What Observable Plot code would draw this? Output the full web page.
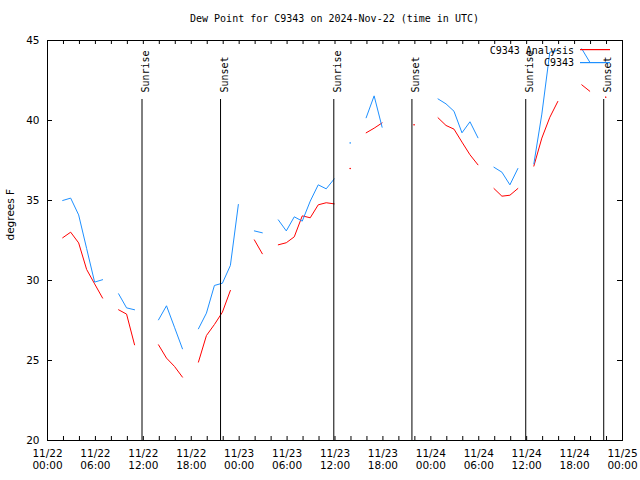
<!DOCTYPE html>
<html>
<head>
<meta charset="utf-8">
<script src="https://cdn.jsdelivr.net/npm/d3@7"></script>
<script src="https://cdn.jsdelivr.net/npm/@observablehq/plot@0.6"></script>
<style>
  body { margin: 0; background: #fff; }
  #title { width: 640px; height: 30px; box-sizing: border-box; padding: 13px 18px 0 47px; text-align: center;
           font: 10px "DejaVu Sans Mono", monospace; line-height: 12px; color: #000; }
</style>
</head>
<body>
<div id="title">Dew Point for C9343 on 2024-Nov-22 (time in UTC)</div>
<div id="chart"></div>
<script>
// Hourly dew point (°F), index = hour since 2024-11-22 00:54 UTC; null = missing
const observed = [null,35.0,35.15,34.1,32.0,29.9,30.05,null,29.17,28.29,28.17,null,null,27.54,28.42,27.08,25.73,null,
  26.98,27.96,29.69,29.83,30.94,34.75,null,33.1,32.98,null,33.79,33.1,33.98,33.71,34.96,35.98,35.73,36.35,
  null,38.6,null,40.17,41.54,39.58,null,null,null,null,null,null,41.35,41.04,40.58,39.23,39.92,38.92,
  null,37.08,36.77,35.98,37.0,null,37.29,40.4,44.27,44.38,null,null,44.48,43.65,null,null,null,null];
const analysis = [null,32.67,33.02,32.35,30.69,29.79,28.9,null,28.17,27.9,25.98,null,null,25.98,25.15,24.63,23.96,null,
  24.9,26.56,27.25,28.02,29.38,null,null,32.54,31.67,null,32.23,32.36,32.73,34.04,33.92,34.73,34.86,34.79,
  null,37.0,null,39.23,39.52,39.85,null,null,null,39.73,null,null,40.17,39.69,39.46,38.65,37.86,37.23,
  null,35.75,35.27,35.33,35.75,null,37.15,38.9,40.2,41.19,null,null,42.23,41.83,null,41.46,null,null];
const eventTimes = ["2024-11-22T11:50Z","2024-11-22T21:40Z","2024-11-23T11:51Z","2024-11-23T21:38Z","2024-11-24T11:53Z","2024-11-24T21:39Z"];
const eventLabels = ["Sunrise","Sunset","Sunrise","Sunset","Sunrise","Sunset"];
const yTicks = [20,25,30,35,40,45];
const seriesNames = ["C9343 Analysis","C9343"];
const seriesColors = ["#ff0000","#1e90ff"];

const t0 = Date.UTC(2024,10,22,0,54);
const toRows = (arr) => arr.map((v,i) => ({t: new Date(t0 + i*3600e3), v}));
const obsRows = toRows(observed), anaRows = toRows(analysis);
const isolated = (rows) => rows.filter((d,i) => d.v != null && (i===0 || rows[i-1].v == null) && (i===rows.length-1 || rows[i+1].v == null));

const xStart = new Date(Date.UTC(2024,10,22)), xEnd = new Date(Date.UTC(2024,10,25));
const ticks2h = d3.utcHour.every(2).range(xStart, new Date(+xEnd + 1));
const ticks6h = d3.utcHour.every(6).range(xStart, new Date(+xEnd + 1));
const events = eventTimes.map((t,i) => ({t: new Date(t), label: eventLabels[i]}));

const W = 640, H = 450, mT = 10, mB = 40, mL = 47, mR = 18;
const fh = H - mT - mB, fw = W - mL - mR;

const plot = Plot.plot({
  width: W, height: H, marginTop: mT, marginBottom: mB, marginLeft: mL, marginRight: mR,
  style: {fontFamily: "DejaVu Sans", fontSize: "10.5px", background: "#fff", color: "#000"},
  x: {type: "utc", domain: [xStart, xEnd]},
  y: {domain: [20, 45]},
  marks: [
    Plot.line(anaRows, {x: "t", y: "v", stroke: seriesColors[0], strokeWidth: 1}),
    Plot.line(obsRows, {x: "t", y: "v", stroke: seriesColors[1], strokeWidth: 1}),
    Plot.dot(isolated(anaRows), {x: "t", y: "v", r: 0.7, fill: seriesColors[0], stroke: null}),
    Plot.dot(isolated(obsRows), {x: "t", y: "v", r: 0.7, fill: seriesColors[1], stroke: null}),
    Plot.ruleX(events, {x: "t", stroke: "black", strokeWidth: 1, insetTop: 59}),
    Plot.text(events, {x: "t", text: "label", frameAnchor: "top", dy: 52, rotate: -90, textAnchor: "start",
      fontFamily: "DejaVu Sans Mono", fontSize: 10, fill: "black"}),
    Plot.frame({stroke: "black", strokeWidth: 1}),
    Plot.tickX(ticks2h, {x: d => d, insetTop: fh - 4, stroke: "black"}),
    Plot.tickX(ticks2h, {x: d => d, insetBottom: fh - 4, stroke: "black"}),
    Plot.tickY(yTicks, {y: d => d, insetRight: fw - 5, stroke: "black"}),
    Plot.tickY(yTicks, {y: d => d, insetLeft: fw - 5, stroke: "black"}),
    Plot.axisX(ticks6h, {tickSize: 0, tickPadding: 8, lineHeight: 1.15,
      tickFormat: d => d3.utcFormat("%m/%d")(d) + "\n" + d3.utcFormat("%H:%M")(d), label: null}),
    Plot.axisY(yTicks, {tickSize: 0, tickPadding: 8, label: null}),
    Plot.text(["degrees F"], {frameAnchor: "left", dx: -37, rotate: -90, fontSize: 10.5, fill: "black"})
  ]
});
document.getElementById("chart").appendChild(plot);

// Legend (inside frame, top right)
const svg = d3.select(plot);
const lg = svg.append("g");
seriesNames.forEach((name, i) => {
  const cy = mT + 10 + i * 12.5;
  const ly = Math.round(cy) - 1;
  lg.append("rect").attr("x", W - mR - 42).attr("width", 30).attr("y", ly).attr("height", 1.2)
    .attr("fill", seriesColors[i]).attr("stroke", "none");
  lg.append("text").attr("x", W - mR - 48).attr("y", cy + 0.5).attr("dy", "0.32em").attr("text-anchor", "end")
    .attr("font-family", "DejaVu Sans Mono").attr("font-size", 10).attr("fill", "black").text(name);
});
</script>
</body>
</html>
